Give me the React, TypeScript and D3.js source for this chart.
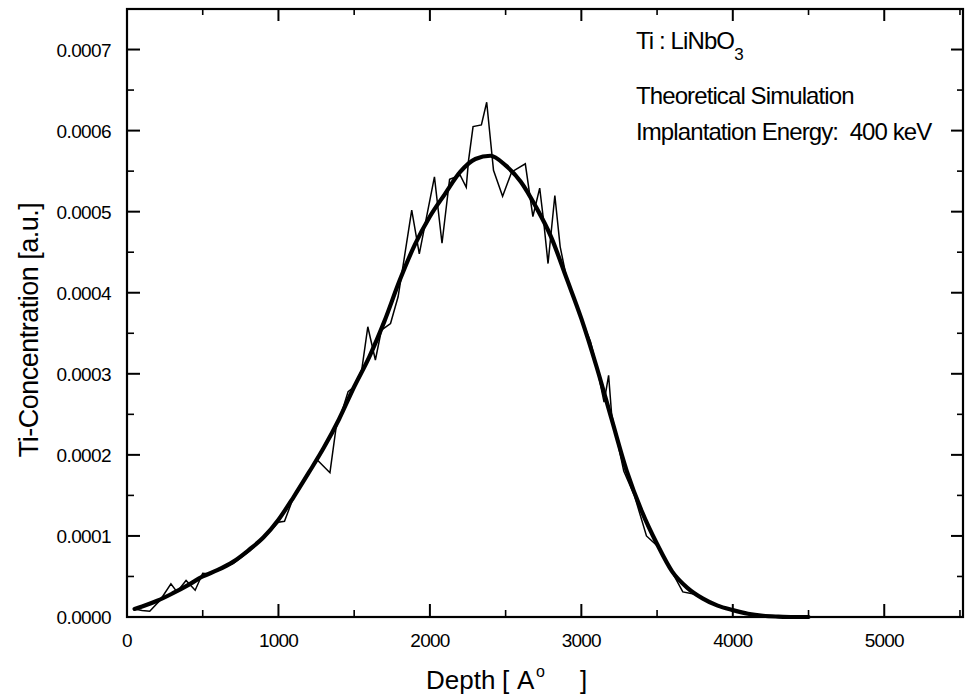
import React from 'react';
import * as d3 from 'd3';

// depth in Angstrom, concentration in a.u.
const smoothDepth = [50, 100, 200, 300, 400, 500, 600, 700, 800, 900, 1000, 1100, 1200, 1300, 1400, 1500, 1600, 1700, 1800, 1900, 2000, 2100, 2200, 2300, 2400, 2500, 2600, 2700, 2800, 2900, 3000, 3100, 3200, 3300, 3400, 3500, 3600, 3700, 3800, 3900, 4000, 4100, 4200, 4300, 4400, 4500];
const smoothConc = [0.0000100, 0.0000130, 0.0000200, 0.0000290, 0.0000390, 0.0000500, 0.0000580, 0.0000680, 0.0000820, 0.0000980, 0.0001200, 0.0001480, 0.0001780, 0.0002090, 0.0002440, 0.0002840, 0.0003210, 0.0003650, 0.0004150, 0.0004590, 0.0004940, 0.0005220, 0.0005490, 0.0005650, 0.0005690, 0.0005570, 0.0005370, 0.0005060, 0.0004690, 0.0004190, 0.0003680, 0.0003090, 0.0002440, 0.0001800, 0.0001300, 0.0000900, 0.0000560, 0.0000360, 0.0000230, 0.0000140, 0.0000085, 0.0000040, 0.0000015, 0.0000005, 0.0000000, 0.0000000];

const noisyDepth = [50, 100, 150, 220, 290, 330, 390, 450, 500, 550, 600, 700, 800, 900, 1000, 1040, 1100, 1200, 1250, 1340, 1380, 1430, 1460, 1500, 1550, 1590, 1640, 1680, 1740, 1790, 1825, 1880, 1930, 2030, 2080, 2130, 2200, 2240, 2255, 2285, 2340, 2375, 2420, 2480, 2540, 2630, 2680, 2725, 2750, 2780, 2825, 2860, 2900, 2950, 3000, 3060, 3100, 3150, 3180, 3200, 3280, 3350, 3430, 3500, 3600, 3670, 3750, 3850, 3950, 4050, 4150, 4300, 4450];
const noisyConc = [0.0000100, 0.0000080, 0.0000070, 0.0000210, 0.0000410, 0.0000310, 0.0000450, 0.0000330, 0.0000540, 0.0000530, 0.0000580, 0.0000660, 0.0000800, 0.0000970, 0.0001170, 0.0001180, 0.0001480, 0.0001780, 0.0001950, 0.0001780, 0.0002330, 0.0002600, 0.0002780, 0.0002840, 0.0003050, 0.0003580, 0.0003170, 0.0003540, 0.0003620, 0.0003950, 0.0004360, 0.0005020, 0.0004480, 0.0005430, 0.0004610, 0.0005400, 0.0005450, 0.0005300, 0.0005630, 0.0006050, 0.0006070, 0.0006350, 0.0005510, 0.0005190, 0.0005490, 0.0005590, 0.0004940, 0.0005290, 0.0004900, 0.0004360, 0.0005200, 0.0004570, 0.0004200, 0.0003950, 0.0003680, 0.0003400, 0.0003100, 0.0002650, 0.0002980, 0.0002500, 0.0001800, 0.0001500, 0.0001000, 0.0000880, 0.0000550, 0.0000310, 0.0000280, 0.0000180, 0.0000110, 0.0000060, 0.0000020, 0.0000005, 0.0000000];

const xTicks = [0, 1000, 2000, 3000, 4000, 5000];
const xMinorTicks = [500, 1500, 2500, 3500, 4500, 5500];
const yTicks = [0, 0.0001, 0.0002, 0.0003, 0.0004, 0.0005, 0.0006, 0.0007];
const yMinorTicks = [0.00005, 0.00015, 0.00025, 0.00035, 0.00045, 0.00055, 0.00065];

const W = 973;
const H = 697;
const left = 127, right = 963, top = 9, bottom = 617;
const font = 'Liberation Sans, Arial, sans-serif';

export default function App() {
  const x = d3.scaleLinear().domain([0, 5520]).range([left, right]);
  const y = d3.scaleLinear().domain([0, 0.00075]).range([bottom, top]);

  const smoothLine = d3.line<number>()
    .x((d, i) => x(smoothDepth[i]))
    .y(d => y(d))
    .curve(d3.curveMonotoneX);

  const noisyLine = d3.line<number>()
    .x((d, i) => x(noisyDepth[i]))
    .y(d => y(d));

  const fmtY = d3.format('.4f');

  return (
    <svg width={W} height={H} style={{ position: 'absolute', left: 0, top: 0, background: '#fff' }}>
      <rect x={0} y={0} width={W} height={H} fill="#fff" />

      {/* data */}
      <path d={noisyLine(noisyConc) || ''} fill="none" stroke="#000" strokeWidth={1.5} />
      <path d={smoothLine(smoothConc) || ''} fill="none" stroke="#000" strokeWidth={4.2} strokeLinecap="round" />

      {/* frame */}
      <rect x={left} y={top} width={right - left} height={bottom - top} fill="none" stroke="#000" strokeWidth={2.2} />

      {/* bottom / top ticks */}
      {xTicks.map(t => (
        <g key={'xt' + t}>
          <line x1={x(t)} x2={x(t)} y1={bottom} y2={bottom - 13} stroke="#000" strokeWidth={2} />
          <line x1={x(t)} x2={x(t)} y1={top} y2={top + 12} stroke="#000" strokeWidth={2} />
          <text x={x(t)} y={647} textAnchor="middle" fontFamily={font} fontSize={19} letterSpacing={-0.8}>{t}</text>
        </g>
      ))}
      {xMinorTicks.map(t => (
        <g key={'xm' + t}>
          <line x1={x(t)} x2={x(t)} y1={bottom} y2={bottom - 7} stroke="#000" strokeWidth={1.6} />
          <line x1={x(t)} x2={x(t)} y1={top} y2={top + 6} stroke="#000" strokeWidth={1.6} />
        </g>
      ))}

      {/* left / right ticks */}
      {yTicks.map(t => (
        <g key={'yt' + t}>
          <line x1={left} x2={left + 13} y1={y(t)} y2={y(t)} stroke="#000" strokeWidth={2} />
          <line x1={right} x2={right - 12} y1={y(t)} y2={y(t)} stroke="#000" strokeWidth={2} />
          <text x={111} y={y(t) + 7} textAnchor="end" fontFamily={font} fontSize={19} letterSpacing={-0.6}>{fmtY(t)}</text>
        </g>
      ))}
      {yMinorTicks.map(t => (
        <g key={'ym' + t}>
          <line x1={left} x2={left + 7} y1={y(t)} y2={y(t)} stroke="#000" strokeWidth={1.6} />
          <line x1={right} x2={right - 6} y1={y(t)} y2={y(t)} stroke="#000" strokeWidth={1.6} />
        </g>
      ))}

      {/* axis titles */}
      <g fontFamily={font} fontSize={26}>
        <text x={426} y={689}>Depth</text>
        <text x={502} y={689}>[</text>
        <text x={517} y={689}>A</text>
        <text x={536} y={677} fontSize={16}>o</text>
        <text x={580} y={689}>]</text>
      </g>
      <text transform="translate(38,330) rotate(-90)" textAnchor="middle" fontFamily={font} fontSize={27} letterSpacing={-0.5}>
        Ti-Concentration [a.u.]
      </text>

      {/* annotation */}
      <g fontFamily={font} fontSize={24} letterSpacing={-0.9}>
        <text x={636} y={49}>
          Ti : LiNbO<tspan dy={11} fontSize={17}>3</tspan>
        </text>
        <text x={636} y={104}>Theoretical Simulation</text>
        <text x={636} y={140}>{'Implantation Energy:\u00a0 400 keV'}</text>
      </g>
    </svg>
  );
}
